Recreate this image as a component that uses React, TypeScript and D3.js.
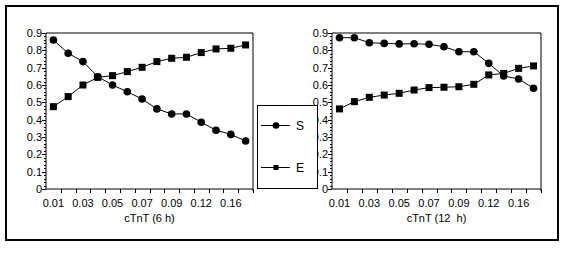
import React from "react";
import * as d3 from "d3";

const categories = ["0.01","0.02","0.03","0.04","0.05","0.06","0.07","0.08","0.09","0.10","0.12","0.14","0.16","0.18"];
const tickLabels = ["0.01","0.03","0.05","0.07","0.09","0.12","0.16"];
const yTicks = [0,0.1,0.2,0.3,0.4,0.5,0.6,0.7,0.8,0.9];
const yTickLabels = ["0","0.1","0.2","0.3","0.4","0.5","0.6","0.7","0.8","0.9"];

const s6 = [0.860,0.783,0.735,0.648,0.600,0.561,0.519,0.462,0.433,0.433,0.385,0.339,0.315,0.277];
const e6 = [0.475,0.533,0.600,0.644,0.654,0.677,0.702,0.735,0.754,0.760,0.787,0.808,0.812,0.831];
const s12 = [0.873,0.873,0.844,0.840,0.837,0.838,0.835,0.821,0.792,0.792,0.725,0.652,0.635,0.581];
const e12 = [0.462,0.504,0.529,0.542,0.552,0.571,0.585,0.587,0.590,0.604,0.658,0.667,0.696,0.710];

const FONT = "'Liberation Sans', Arial, sans-serif";

function Panel({ x0, x1, S, E, title }: { x0: number; x1: number; S: number[]; E: number[]; title: string }) {
  const top = 33, bottom = 189;
  const x = d3.scaleBand<string>().domain(categories).range([x0, x1]).padding(0);
  const y = d3.scaleLinear().domain([0, 0.9]).range([bottom, top]);
  const cx = (c: string) => (x(c) as number) + x.bandwidth() / 2;
  const line = d3.line<number>().x((_, i) => cx(categories[i])).y((v) => y(v));
  const minor = d3.range(0, 0.9001, 0.02);
  return (
    <g>
      <line x1={x0} y1={top} x2={x1} y2={top} stroke="#000" />
      <line x1={x1} y1={top} x2={x1} y2={bottom + 2} stroke="#000" />
      <line x1={x0} y1={top} x2={x0} y2={bottom} stroke="#000" />
      <line x1={x0} y1={bottom} x2={x1} y2={bottom} stroke="#000" />
      {minor.map((v, i) => (
        <line key={"m" + i} x1={x0 - 2} x2={x0} y1={Math.round(y(v)) + 0.5} y2={Math.round(y(v)) + 0.5} stroke="#000" />
      ))}
      {yTicks.map((v, i) => (
        <g key={"y" + i}>
          <line x1={x0 - 4} x2={x0} y1={Math.round(y(v)) + 0.5} y2={Math.round(y(v)) + 0.5} stroke="#000" />
          <text x={x0 - 4} y={y(v) + 4} textAnchor="end" fontSize={11} fontFamily={FONT}>{yTickLabels[i]}</text>
        </g>
      ))}
      {categories.map((c, i) => (
        <line key={"xt" + i} x1={Math.round((x(c) as number) + x.bandwidth()) + 0.5} x2={Math.round((x(c) as number) + x.bandwidth()) + 0.5} y1={bottom} y2={bottom + 4} stroke="#000" />
      ))}
      {categories.map((c, i) =>
        tickLabels.includes(c) ? (
          <text key={"xl" + i} x={cx(c)} y={207} textAnchor="middle" fontSize={11} fontFamily={FONT}>{c}</text>
        ) : null
      )}
      <text x={(x0 + x1) / 2} y={222} textAnchor="middle" fontSize={11} fontFamily={FONT} style={{ whiteSpace: "pre" }}>{title}</text>
      <path d={line(S) || ""} fill="none" stroke="#000" strokeWidth={1} />
      <path d={line(E) || ""} fill="none" stroke="#000" strokeWidth={1} />
      {S.map((v, i) => (
        <circle key={"s" + i} cx={cx(categories[i])} cy={y(v)} r={3.8} fill="#000" />
      ))}
      {E.map((v, i) => (
        <rect key={"e" + i} x={cx(categories[i]) - 3.5} y={y(v) - 3.5} width={7} height={7} fill="#000" />
      ))}
    </g>
  );
}

export default function App() {
  return (
    <svg width={566} height={254} style={{ position: "absolute", left: 0, top: 0, background: "#fff" }}>
      <rect x={0} y={0} width={566} height={254} fill="#fff" />
      <rect x={6} y={6} width={552} height={234} fill="none" stroke="#000" strokeWidth={2} />
      <Panel x0={46} x1={253} S={s6} E={e6} title="cTnT (6 h)" />
      <Panel x0={332} x1={541} S={s12} E={e12} title="cTnT (12  h)" />
      <rect x={257.5} y={105.5} width={60} height={83} fill="#fff" stroke="#000" />
      <line x1={261} x2={290} y1={125.5} y2={125.5} stroke="#000" />
      <circle cx={276} cy={125.5} r={3.3} fill="#000" />
      <text x={296} y={130} fontSize={12} fontFamily={FONT}>S</text>
      <line x1={261} x2={290} y1={167.5} y2={167.5} stroke="#000" />
      <rect x={273.5} y={165} width={5} height={5} fill="#000" />
      <text x={296} y={172} fontSize={12} fontFamily={FONT}>E</text>
    </svg>
  );
}
